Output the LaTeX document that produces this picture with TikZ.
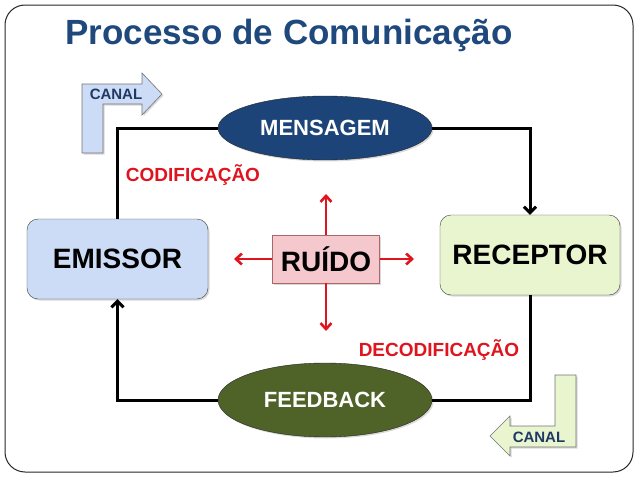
\documentclass[tikz,border=0pt]{standalone}
\usepackage{fontspec}
\setmainfont{Liberation Sans}
\usepackage{tikz}
\usetikzlibrary{arrows.meta,positioning,shapes.geometric,shadows}

\definecolor{titleblue}{HTML}{1F497D}
\definecolor{msgblue}{HTML}{1C4479}
\definecolor{fbgreen}{HTML}{4F6228}
\definecolor{emisfill}{HTML}{CCDBF6}
\definecolor{recfill}{HTML}{E8F5CF}
\definecolor{ruifill}{HTML}{F5C8CE}
\definecolor{noisered}{HTML}{E0141E}
\definecolor{canalblue}{HTML}{1F3864}

\begin{document}
\begin{tikzpicture}[x=1pt,y=-1pt,
  agent/.style={draw=black!75, rounded corners=11pt, minimum width=181pt, minimum height=80pt,
    font=\fontsize{28}{30}\selectfont\bfseries,
    drop shadow={opacity=0.3,shadow xshift=1.5pt,shadow yshift=-1.5pt}},
  channel/.style={ellipse, draw=black!85, minimum width=214pt, minimum height=64pt, inner sep=0pt,
    text=white, font=\fontsize{22}{24}\selectfont\bfseries,
    drop shadow={opacity=0.3,shadow xshift=1.5pt,shadow yshift=-1.5pt}},
  flow/.style={line width=3pt},
  noise/.style={draw=noisered, line width=2.6pt, -{Straight Barb[length=6pt,width=11pt,line width=2.6pt]}},
  stage/.style={text=noisered, font=\fontsize{19}{21}\selectfont\bfseries},
  canalarrow/.style={draw=black!55, line width=0.6pt,
    drop shadow={opacity=0.3,shadow xshift=1.5pt,shadow yshift=-1.5pt}},
  canaltext/.style={text=canalblue, font=\fontsize{15}{17}\selectfont\bfseries}
]
\useasboundingbox (0,0) rectangle (638,479);

% Frame
\draw[black!85, line width=1pt, rounded corners=20pt] (5,5) rectangle (633,472);

% Title
\node[anchor=base west, inner sep=0pt, text=titleblue, font=\fontsize{35}{38}\selectfont\bfseries]
  (title) at (65,44) {Processo de Comunicação};

% Nodes
\node[agent, fill=emisfill] (emis) at (117.5,259) {EMISSOR};
\node[agent, fill=recfill, minimum width=180pt] (rec) at (530,255) {RECEPTOR};
\node[draw=red!45!black!60, fill=ruifill, minimum width=107pt, minimum height=48pt,
  font=\fontsize{28}{30}\selectfont\bfseries,
  drop shadow={opacity=0.3,shadow xshift=1.5pt,shadow yshift=-1.5pt}] (rui) at (326,259) {RUÍDO};
\node[channel, fill=msgblue] (mens) at (325,128) {MENSAGEM};
\node[channel, fill=fbgreen, minimum height=74pt] (feed) at (325,400) {FEEDBACK};

% Connectors
\draw[flow] (mens.west) -| (emis.north);
\draw[flow, -{Straight Barb[length=6pt,width=12pt,line width=3pt]}] (mens.east) -| (rec.north);
\draw[flow] (rec.south) |- (feed.east);
\draw[flow, -{Straight Barb[length=6pt,width=12pt,line width=3pt]}] (feed.west) -| (emis.south);

% Noise
\coordinate (nup) at (326,194);
\coordinate (ndown) at (326,331);
\coordinate (nleft) at (234,259);
\coordinate (nright) at (414,259);
\draw[noise] (rui.north) -- (nup);
\draw[noise] (rui.south) -- (ndown);
\draw[noise] (rui.west) -- (nleft);
\draw[noise] (rui.east) -- (nright);

% Labels
\node[stage] (cod) at (193,175) {CODIFICAÇÃO};
\node[stage] (decod) at (439,350) {DECODIFICAÇÃO};

% Canal arrows
\filldraw[canalarrow, fill=emisfill] (82,153) -- (82,84) -- (142,84) -- (142,73) -- (162,94)
  -- (142,115) -- (142,104) -- (103,104) -- (103,153) -- cycle;
\node[canaltext] (canal1) at (116,94) {CANAL};
\filldraw[canalarrow, fill=recfill] (576,375) -- (576,447) -- (510,447) -- (510,456) -- (490,436)
  -- (510,416) -- (510,426) -- (555,426) -- (555,375) -- cycle;
\node[canaltext] (canal2) at (539,437) {CANAL};
\end{tikzpicture}
\end{document}
